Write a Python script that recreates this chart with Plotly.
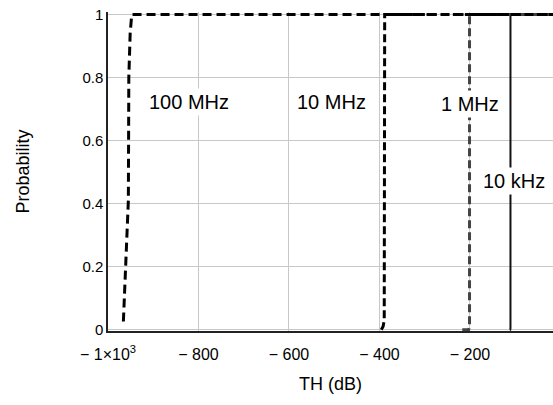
import plotly.graph_objects as go

# Data (CDF curves)
th_100mhz = [-966, -963.5, -962, -958.5, -955, -954.5, -954, -951, -947.5, -16]
p_100mhz = [0.026, 0.12, 0.2, 0.32, 0.41, 0.6, 0.8, 0.94, 1.0, 1.0]

th_10mhz = [-396, -392, -389.5, -389, -389, -388.5, -16]
p_10mhz = [0.0, 0.01, 0.03, 0.3, 0.7, 1.0, 1.0]

th_1mhz = [-217, -203, -201, -201, -201, -16]
p_1mhz = [0.0, 0.0, 0.01, 0.5, 1.0, 1.0]

th_10khz = [-112, -111, -110.5, -110.5, -16]
p_10khz = [0.0, 0.0, 0.005, 1.0, 1.0]

x_tickvals = [-1000, -800, -600, -400, -200]
x_ticktext = ["\u2212 1\u00d710<sup>3</sup>", "\u2212 800", "\u2212 600", "\u2212 400", "\u2212 200"]
y_tickvals = [0, 0.2, 0.4, 0.6, 0.8, 1.0]
y_ticktext = ["0", "0.2", "0.4", "0.6", "0.8", "1"]

labels = ["100 MHz", "10 MHz", "1 MHz", "10 kHz"]
label_x = [-820, -505, -199, -102]
label_y = [0.724, 0.724, 0.717, 0.473]

FONT = "Liberation Sans, Arial, sans-serif"

fig = go.Figure()
fig.add_trace(go.Scatter(x=th_10khz, y=p_10khz, mode="lines",
                         line=dict(color="#111111", width=2)))
fig.add_trace(go.Scatter(x=th_1mhz, y=p_1mhz, mode="lines",
                         line=dict(color="#444444", width=3, dash="8px,4px")))
fig.add_trace(go.Scatter(x=th_10mhz, y=p_10mhz, mode="lines",
                         line=dict(color="#000000", width=3, dash="8px,4px")))
fig.add_trace(go.Scatter(x=th_100mhz, y=p_100mhz, mode="lines",
                         line=dict(color="#000000", width=3, dash="9px,5px")))

for t, xx, yy in zip(labels, label_x, label_y):
    fig.add_annotation(x=xx, y=yy, text=t, showarrow=False,
                       font=dict(family=FONT, size=20, color="#000000"),
                       bgcolor="white", borderpad=2)

fig.update_layout(
    width=553, height=405,
    margin=dict(l=108, r=0, t=12, b=74, autoexpand=False),
    paper_bgcolor="white", plot_bgcolor="white",
    showlegend=False,
    font=dict(family=FONT, size=16, color="#000000"),
)
fig.update_xaxes(
    range=[-1000, -16.5], automargin=False,
    tickvals=x_tickvals, ticktext=x_ticktext,
    showgrid=True, gridcolor="#c8c8c8", gridwidth=1,
    showline=True, linecolor="#222222", linewidth=1.5,
    ticks="", zeroline=False, ticklabelstandoff=8,
    tickfont=dict(family=FONT, size=16),
    title=dict(text="TH (dB)", font=dict(family=FONT, size=18), standoff=15),
)
fig.update_yaxes(
    range=[-0.004, 1.008], automargin=False,
    tickvals=y_tickvals, ticktext=y_ticktext,
    showgrid=True, gridcolor="#c8c8c8", gridwidth=1,
    showline=True, linecolor="#222222", linewidth=1.5,
    ticks="", zeroline=False,
    tickfont=dict(family=FONT, size=15),
    title=dict(text="Probability", font=dict(family=FONT, size=18), standoff=48),
)

fig.write_html("out.html",
               config={"displayModeBar": False},
               post_script="document.body.style.margin='0';document.body.style.overflow='hidden';")
